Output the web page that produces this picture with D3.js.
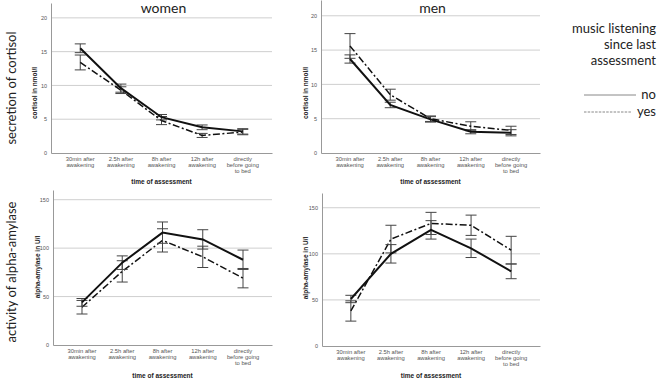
<!DOCTYPE html>
<head>
<meta charset="utf-8">
<script src="https://d3js.org/d3.v7.min.js"></script>
<style>
  body { margin: 0; background: #fff; }
  text { font-family: "Liberation Sans", Arial, sans-serif; }
  .big { font-family: Lato, "Open Sans", sans-serif; fill: #222; }
  .tick text { fill: #555; font-size: 5.5px; }
  .axtitle { font-weight: bold; font-size: 6.5px; fill: #222; }
</style>
</head>
<body>
<script>
// categories (x) and tick labels
var times = ["30min", "2.5h", "8h", "12h", "bed"];
var timeLabels = [["30min after", "awakening"], ["2.5h after", "awakening"], ["8h after", "awakening"],
                  ["12h after", "awakening"], ["directly", "before going", "to bed"]];
var cortisolTicks = [0, 5, 10, 15, 20];
var amylaseTicks = [0, 50, 100, 150];

// means and error half-widths, "no" = no music listening, "yes" = music listening
var womenCortisolNo = [15.5, 9.6, 5.3, 3.8, 3.2];
var womenCortisolNoErr = [0.65, 0.6, 0.4, 0.35, 0.4];
var womenCortisolYes = [13.4, 9.3, 4.8, 2.6, 3.1];
var womenCortisolYesErr = [1.1, 0.5, 0.6, 0.3, 0.4];

var menCortisolNo = [13.7, 7.0, 4.9, 3.1, 2.95];
var menCortisolNoErr = [0.6, 0.4, 0.4, 0.3, 0.45];
var menCortisolYes = [15.6, 8.5, 5.0, 3.9, 3.3];
var menCortisolYesErr = [1.8, 0.8, 0.4, 0.65, 0.6];

var womenAmylaseNo = [44, 85, 116, 109, 88];
var womenAmylaseNoErr = [4, 7, 11, 10, 10];
var womenAmylaseYes = [39, 76, 108, 91, 69];
var womenAmylaseYesErr = [7, 11, 12, 11, 10];

var menAmylaseNo = [51, 100, 126, 106, 81];
var menAmylaseNoErr = [4, 10, 10, 10, 8];
var menAmylaseYes = [38, 116, 133, 131, 104];
var menAmylaseYesErr = [11, 15, 12, 11, 15];

var svg = d3.select("body").append("svg")
  .attr("width", 658).attr("height", 380);

function panel(o) {
  var x = d3.scalePoint().domain(times).range(o.xr).padding(0.72);
  var y = d3.scaleLinear().domain([0, o.ymax]).range(o.yr);
  var g = svg.append("g");

  // grid lines
  g.selectAll(".grid").data(o.ticks.filter(function(t){return t > 0;})).enter()
    .append("line")
    .attr("x1", o.xr[0]).attr("x2", o.xr[1])
    .attr("y1", function(d){return y(d);}).attr("y2", function(d){return y(d);})
    .attr("stroke", "#cfcfcf").attr("stroke-width", 1);

  var yAxis = g.append("g")
    .attr("transform", "translate(" + o.xr[0] + ",0)")
    .call(d3.axisLeft(y).tickValues(o.ticks).tickSize(0).tickPadding(4).tickSizeOuter(0));
  yAxis.select(".domain").attr("stroke", "#999");

  var xAxis = g.append("g")
    .attr("transform", "translate(0," + o.yr[0] + ")")
    .call(d3.axisBottom(x).tickSize(0).tickFormat(""));
  xAxis.select(".domain").attr("stroke", "#999");
  xAxis.selectAll(".tick text").remove();

  // multi-line x labels
  times.forEach(function(t, i) {
    var tx = g.append("text")
      .attr("x", x(t)).attr("y", o.yr[0] + 8)
      .attr("text-anchor", "middle")
      .attr("font-size", "5.8px").attr("fill", "#555");
    timeLabels[i].forEach(function(l, j) {
      tx.append("tspan").attr("x", x(t)).attr("dy", j === 0 ? 0 : 6).text(l);
    });
  });

  g.append("text").attr("class", "axtitle")
    .attr("x", (o.xr[0] + o.xr[1]) / 2).attr("y", o.xtitleY)
    .attr("text-anchor", "middle").text("time of assessment");

  g.append("text").attr("class", "axtitle")
    .attr("transform", "translate(" + o.ytitleX + "," + o.ytitleY + ") rotate(-90)")
    .attr("text-anchor", "middle").text(o.ytitle);

  var line = d3.line().x(function(d){return x(d.t);}).y(function(d){return y(d.v);});

  [{v: o.yes, e: o.yesErr, dash: "7,2.5,2,2.5", w: 1.5},
   {v: o.no, e: o.noErr, dash: null, w: 2}].forEach(function(s) {
    var pts = times.map(function(t, i){return {t: t, v: s.v[i], e: s.e[i]};});
    // error bars
    var eb = g.selectAll(null).data(pts).enter().append("g")
      .attr("stroke", "#444").attr("stroke-width", 1).attr("fill", "none");
    eb.append("line")
      .attr("x1", function(d){return x(d.t);}).attr("x2", function(d){return x(d.t);})
      .attr("y1", function(d){return y(d.v - d.e);}).attr("y2", function(d){return y(d.v + d.e);});
    [-1, 1].forEach(function(sg) {
      eb.append("line")
        .attr("x1", function(d){return x(d.t) - 5.5;}).attr("x2", function(d){return x(d.t) + 5.5;})
        .attr("y1", function(d){return y(d.v + sg * d.e);}).attr("y2", function(d){return y(d.v + sg * d.e);});
    });
    g.append("path").datum(pts)
      .attr("d", line).attr("fill", "none")
      .attr("stroke", "#111").attr("stroke-width", s.w)
      .attr("stroke-dasharray", s.dash);
  });

  if (o.title) {
    g.append("text").attr("class", "big")
      .attr("x", (o.xr[0] + o.xr[1]) / 2 + 2).attr("y", 13)
      .attr("text-anchor", "middle").attr("font-size", "14px").text(o.title);
  }
}

panel({xr: [51, 272], yr: [153, 3], ymax: 22.2, ticks: cortisolTicks, title: "women",
  ytitle: "cortisol in nmol/l", ytitleX: 37, ytitleY: 93, xtitleY: 184,
  no: womenCortisolNo, noErr: womenCortisolNoErr, yes: womenCortisolYes, yesErr: womenCortisolYesErr});
panel({xr: [321, 540], yr: [153, 0], ymax: 22.3, ticks: cortisolTicks, title: "men",
  ytitle: "cortisol in nmol/l", ytitleX: 308, ytitleY: 93, xtitleY: 184,
  no: menCortisolNo, noErr: menCortisolNoErr, yes: menCortisolYes, yesErr: menCortisolYesErr});
panel({xr: [53, 272], yr: [345, 190], ymax: 160, ticks: amylaseTicks,
  ytitle: "alpha-amylase in U/l", ytitleX: 40, ytitleY: 267, xtitleY: 378,
  no: womenAmylaseNo, noErr: womenAmylaseNoErr, yes: womenAmylaseYes, yesErr: womenAmylaseYesErr});
panel({xr: [322, 540], yr: [346, 193], ymax: 166, ticks: amylaseTicks,
  ytitle: "alpha-amylase in U/l", ytitleX: 308, ytitleY: 268, xtitleY: 378,
  no: menAmylaseNo, noErr: menAmylaseNoErr, yes: menAmylaseYes, yesErr: menAmylaseYesErr});

// row labels
svg.append("text").attr("class", "big")
  .attr("transform", "translate(16,88) rotate(-90)")
  .attr("text-anchor", "middle").attr("font-size", "13px").text("secretion of cortisol");
svg.append("text").attr("class", "big")
  .attr("transform", "translate(16,272) rotate(-90)")
  .attr("text-anchor", "middle").attr("font-size", "13px").text("activity of alpha-amylase");

// legend
var legTitle = ["music listening", "since last", "assessment"];
svg.append("g").selectAll("text").data(legTitle).enter().append("text")
  .attr("class", "big").attr("font-size", "13px")
  .attr("x", 656).attr("y", function(d, i){return 33 + i * 16;})
  .attr("text-anchor", "end").text(function(d){return d;});
var legItems = [{k: "no", dash: null, y: 95}, {k: "yes", dash: "2.5,1.2", y: 112}];
var leg = svg.append("g").selectAll("g").data(legItems).enter().append("g");
leg.append("line").attr("x1", 584).attr("x2", function(d){return d.k === "no" ? 636 : 632;})
  .attr("y1", function(d){return d.y;}).attr("y2", function(d){return d.y;})
  .attr("stroke", "#888").attr("stroke-width", 1).attr("stroke-dasharray", function(d){return d.dash;});
leg.append("text").attr("class", "big").attr("font-size", "13px")
  .attr("x", 656).attr("y", function(d){return d.y + 4;})
  .attr("text-anchor", "end").text(function(d){return d.k;});
</script>
</body>
